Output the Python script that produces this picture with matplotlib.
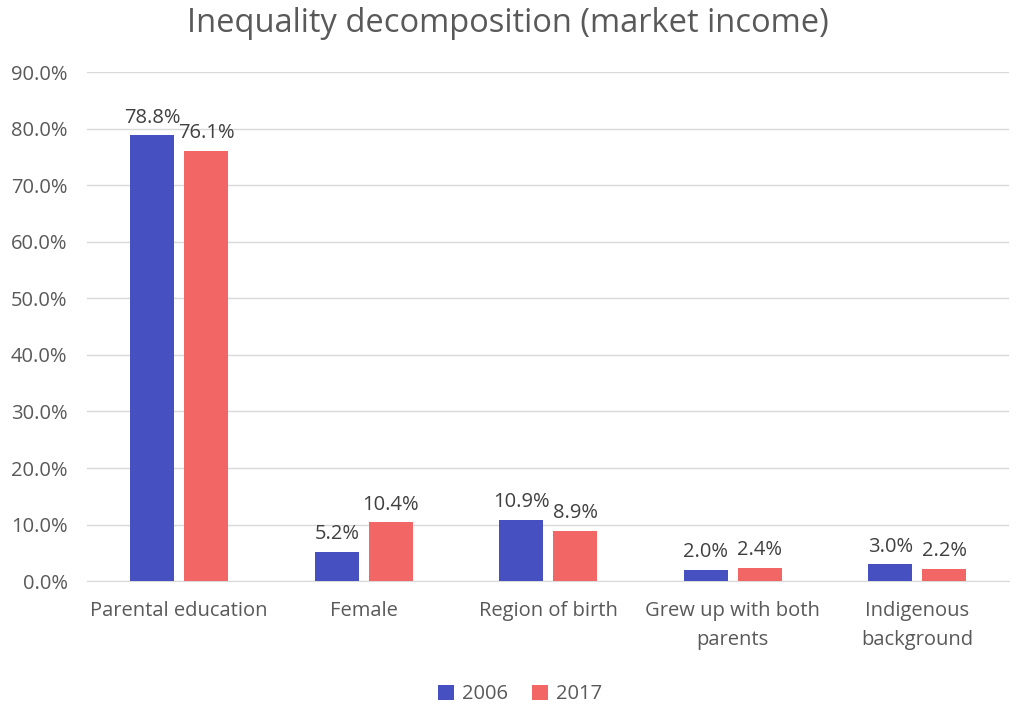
import matplotlib
matplotlib.use("Agg")
import matplotlib.pyplot as plt
import numpy as np

categories = ["Parental education", "Female", "Region of birth", "Grew up with both\nparents", "Indigenous\nbackground"]
series_names = ["2006", "2017"]
values_2006 = [78.8, 5.2, 10.9, 2.0, 3.0]
values_2017 = [76.1, 10.4, 8.9, 2.4, 2.2]
yticks = [0, 10, 20, 30, 40, 50, 60, 70, 80, 90]

plt.rcParams['font.family'] = ['Open Sans', 'DejaVu Sans']
txt = '#595959'

fig = plt.figure(figsize=(10.16, 7.07), dpi=100)
ax = fig.add_axes([0.0856, 0.178, 0.908, 0.72])

x = np.arange(len(categories))
w = 0.238
off = 0.146
b1 = ax.bar(x - off, values_2006, w, color='#4650C0', label=series_names[0], zorder=3)
b2 = ax.bar(x + off, values_2017, w, color='#F26666', label=series_names[1], zorder=3)

for bars, vals in ((b1, values_2006), (b2, values_2017)):
    for b, v in zip(bars, vals):
        ax.text(b.get_x() + b.get_width() / 2, v + 1.3, f"{v:.1f}%", ha='center', va='bottom',
                fontsize=14.5, color='#404040')

ax.set_xlim(-0.5, len(categories) - 0.5)
ax.set_ylim(0, 90)
ax.set_yticks(yticks)
ax.set_yticklabels([f"{t:.1f}%" for t in yticks], fontsize=14.5, color=txt)
ax.set_xticks(x)
ax.set_xticklabels(categories, fontsize=14.5, color=txt, linespacing=1.6)
ax.tick_params(axis='x', length=0, pad=14)
ax.tick_params(axis='y', length=0, pad=14)
ax.grid(axis='y', color='#D9D9D9', linewidth=1, zorder=0)
for s in ['top', 'right', 'left']:
    ax.spines[s].set_visible(False)
ax.spines['bottom'].set_color('#D9D9D9')

fig.suptitle("Inequality decomposition (market income)", fontsize=23.5, color=txt, y=0.99)
fig.legend(handles=[b1, b2], labels=series_names, loc='lower center', bbox_to_anchor=(0.512, -0.022),
           ncol=2, frameon=False, fontsize=14.5, labelcolor=txt, handlelength=0.8, handleheight=0.8,
           columnspacing=1.2, handletextpad=0.4)

fig.savefig("out.png", dpi=100)
